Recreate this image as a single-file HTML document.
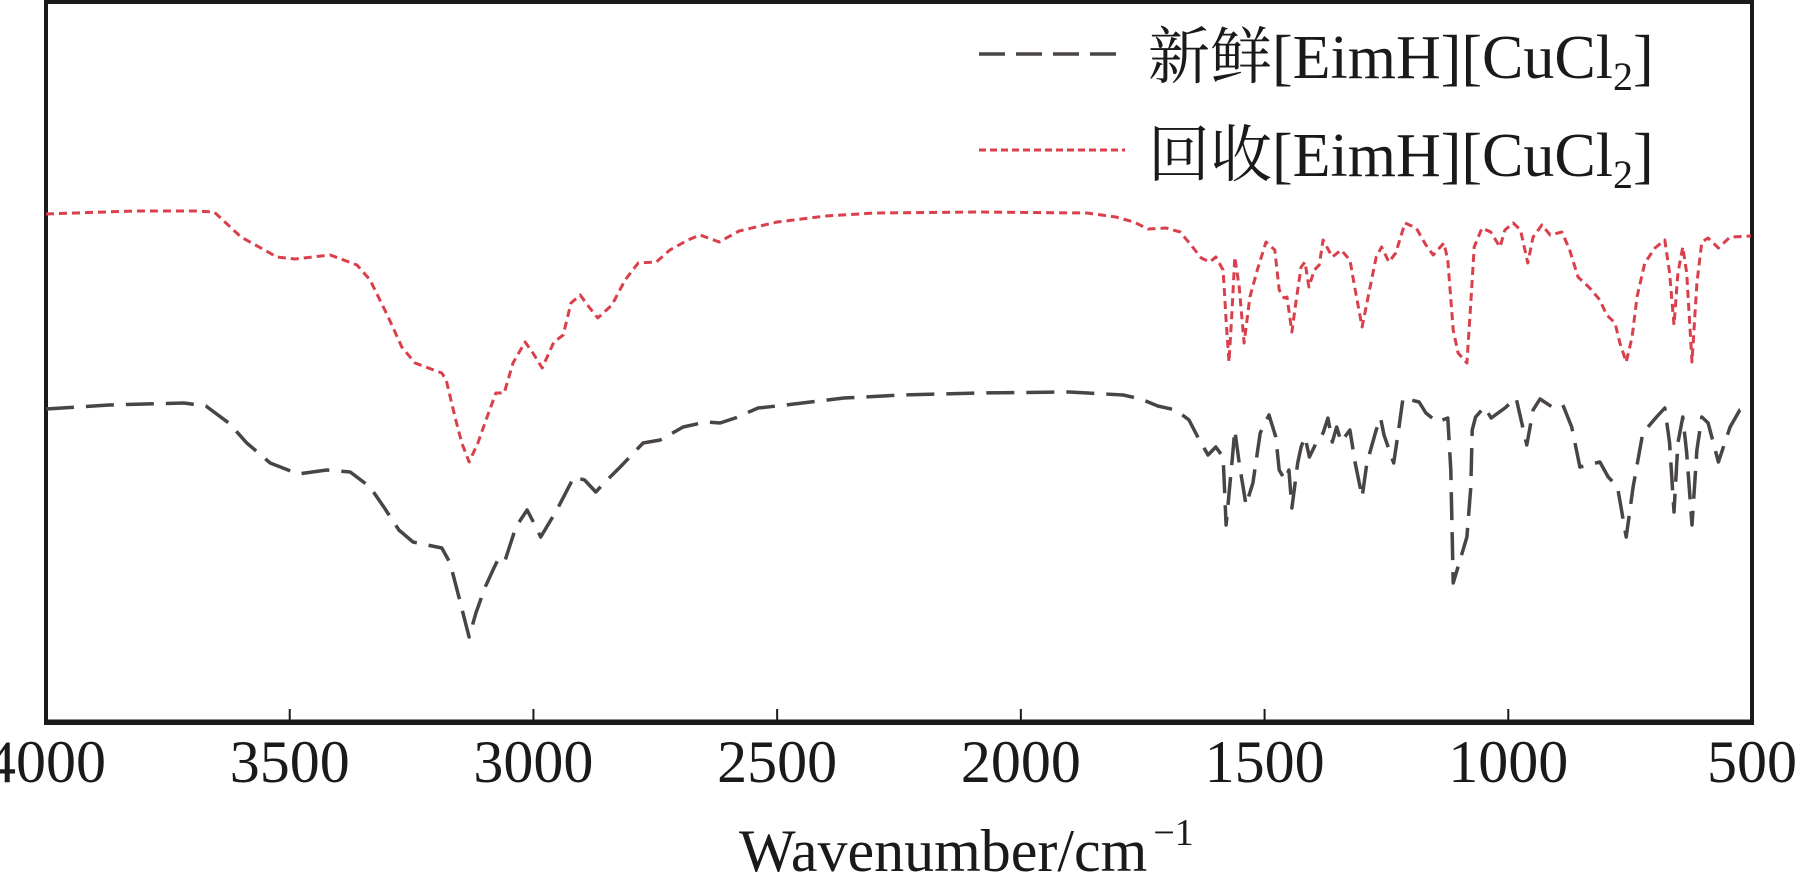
<!DOCTYPE html>
<html><head><meta charset="utf-8"><style>
html,body{margin:0;padding:0;background:#fff;}
svg{display:block;font-family:"Liberation Serif","Noto Serif CJK SC",serif;}
</style></head><body>
<svg id="chart" width="1810" height="888" viewBox="0 0 1810 888" xmlns="http://www.w3.org/2000/svg">
<rect x="46" y="2" width="1706" height="721" fill="none" stroke="#1a1a1a" stroke-width="4"/>
<line x1="44" y1="722" x2="1754" y2="722" stroke="#1a1a1a" stroke-width="5"/>
<g id="ticks"></g>
<g id="series"></g>
<text x="739" y="871" font-size="60" fill="#1a1a1a">Wavenumber/cm<tspan font-size="38" dy="-26" dx="6">−1</tspan></text>
<g>
<line x1="979" y1="54" x2="1125" y2="54" stroke="#4a4545" stroke-width="3.5" stroke-dasharray="26 11"/>
<text x="1148" y="78" font-size="62" fill="#1a1a1a">新鲜[EimH][CuCl<tspan font-size="40" dy="12">2</tspan><tspan dy="-12">]</tspan></text>
<line x1="979" y1="150" x2="1125" y2="150" stroke="#d9404c" stroke-width="3" stroke-dasharray="7 4"/>
<text x="1148" y="176" font-size="62" fill="#1a1a1a">回收[EimH][CuCl<tspan font-size="40" dy="12">2</tspan><tspan dy="-12">]</tspan></text>
</g>
</svg>
<script>
const tickValues = [4000,3500,3000,2500,2000,1500,1000,500];
const redWn = [4000,3819,3692,3655,3600,3526,3489,3417,3362,3335,3298,3270,3243,3188,3179,3161,3147,3132,3114,3095,3077,3060,3042,3017,3001,2982,2958,2939,2923,2904,2886,2868,2839,2812,2785,2748,2720,2683,2658,2619,2578,2500,2400,2300,2084,1864,1805,1768,1739,1702,1673,1651,1630,1612,1600,1585,1579,1573,1567,1561,1552,1542,1530,1515,1497,1479,1470,1460,1454,1444,1436,1425,1417,1409,1398,1388,1380,1361,1343,1325,1314,1300,1290,1271,1260,1245,1231,1212,1189,1169,1154,1132,1124,1113,1103,1085,1077,1070,1054,1036,1017,1007,990,975,960,949,931,914,890,874,857,833,812,798,781,771,758,746,736,720,699,679,669,660,652,642,634,623,613,603,590,569,545,502];
const redVal = [509,512,512,511,486,466,464,468,458,443,406,376,360,350,343,306,280,261,280,306,330,330,360,381,370,355,381,388,420,428,416,405,418,443,460,461,473,483,488,481,492,501,507,510,511,510,506,501,494,495,491,478,465,461,466,453,403,361,410,466,436,380,426,453,481,473,433,425,426,391,420,456,461,436,453,458,483,466,473,463,433,396,420,466,476,461,470,500,495,478,468,480,463,393,370,360,420,476,495,491,476,493,500,493,460,486,498,488,491,473,446,435,423,408,400,380,361,386,426,460,475,483,450,398,450,476,450,361,440,481,485,475,486,487];
const blackWn = [4000,3871,3717,3672,3625,3588,3540,3483,3424,3376,3335,3307,3276,3247,3188,3171,3153,3132,3118,3099,3081,3070,3058,3036,3013,2999,2985,2952,2917,2895,2872,2853,2822,2775,2740,2693,2646,2617,2586,2539,2482,2363,2246,2084,1901,1790,1754,1719,1682,1655,1637,1616,1600,1585,1579,1567,1561,1552,1538,1524,1509,1491,1477,1470,1458,1450,1444,1432,1425,1417,1408,1394,1380,1370,1361,1352,1343,1325,1314,1300,1290,1271,1262,1255,1235,1225,1216,1183,1169,1146,1124,1118,1113,1085,1077,1074,1067,1049,1035,1007,984,962,949,935,910,888,870,853,812,795,776,758,744,724,696,679,669,660,652,642,634,623,613,603,590,569,545,525,502];
const blackVal = [314,318,320,317,300,280,260,249,253,251,236,216,193,181,175,160,126,86,110,136,155,166,163,196,213,200,186,213,246,243,231,241,256,280,283,296,301,300,305,315,318,325,328,330,331,328,324,317,313,303,286,268,276,266,198,260,293,260,218,240,290,308,286,253,243,253,215,260,276,286,266,280,290,305,281,296,281,293,260,226,260,293,305,288,260,293,325,321,310,301,305,253,140,186,236,293,306,316,305,315,325,278,313,324,316,318,296,256,261,246,236,186,236,290,306,315,280,211,280,306,270,198,273,306,300,261,296,313,315];

const X0=46, X1=1752, W0=4000, W1=500, YB=723;
function xScale(w){ return X0 + (W0 - w) / (W0 - W1) * (X1 - X0); }
function yScale(v){ return YB - v; }
const NS='http://www.w3.org/2000/svg';
const tg=document.getElementById('ticks');
tickValues.forEach(function(t,i){
  const x=xScale(t);
  if(i>0 && i<tickValues.length-1){
    const l=document.createElementNS(NS,'line');
    
    
    l.setAttribute('x1',x);l.setAttribute('x2',x);l.setAttribute('y1',709);l.setAttribute('y2',722);
    l.setAttribute('stroke','#1a1a1a');l.setAttribute('stroke-width','2');
    tg.appendChild(l);
  }
  const tx=document.createElementNS(NS,'text');
  
  
  tx.setAttribute('x',x);tx.setAttribute('y',782);
  tx.setAttribute('text-anchor','middle');tx.setAttribute('font-size','60');tx.setAttribute('fill','#1a1a1a');
  tx.textContent=String(t);
  tg.appendChild(tx);
});
function addLine(wn,vals,color,dash,width,name){
  let d='';
  for(let i=0;i<wn.length;i++){ d+=(i?'L':'M')+xScale(wn[i]).toFixed(1)+','+yScale(vals[i]).toFixed(1); }
  const p=document.createElementNS(NS,'path');
  
  
  p.setAttribute('d',d);p.setAttribute('fill','none');p.setAttribute('stroke',color);
  p.setAttribute('stroke-width',width);p.setAttribute('stroke-dasharray',dash);
  p.setAttribute('stroke-linejoin','round');
  document.getElementById('series').appendChild(p);
}
addLine(blackWn,blackVal,'#4a4545','28 12','3.5','fresh-spectrum-line');
addLine(redWn,redVal,'#d9404c','8 5','3','recycled-spectrum-line');
</script>
</body></html>
